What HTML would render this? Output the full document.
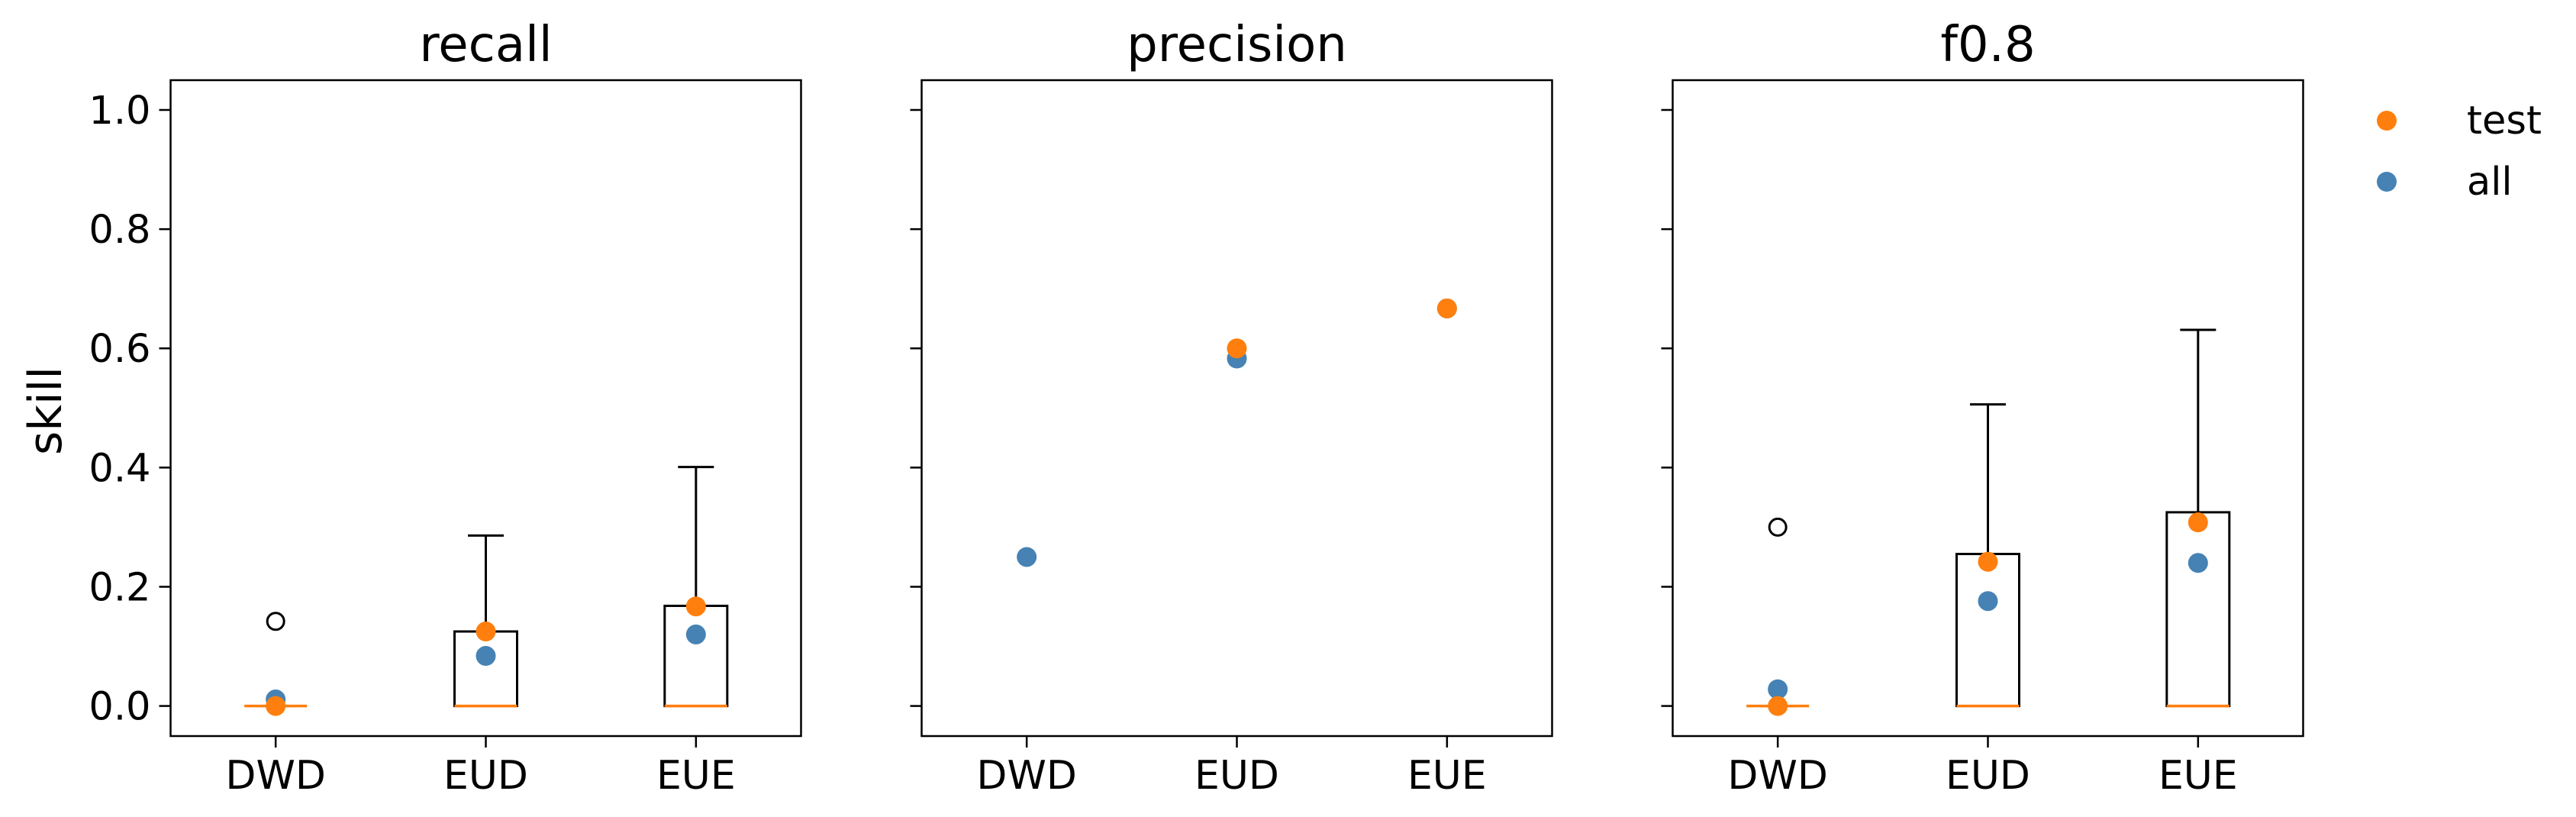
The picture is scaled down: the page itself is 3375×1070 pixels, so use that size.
<!DOCTYPE html>
<html><head><meta charset="utf-8"><style>
html,body{margin:0;padding:0;background:#fff;}
svg{display:block;font-family:"DejaVu Sans","Liberation Sans",sans-serif;}
</style></head><body>
<svg id="chart" width="3375" height="1070" viewBox="0 0 3375 1070" xmlns="http://www.w3.org/2000/svg">
<text x="0" y="0" transform="translate(80,538) rotate(-90)" font-size="60" text-anchor="middle">skill</text>
<g>
  <circle cx="3127" cy="158" r="13" fill="#ff7f0e"/>
  <text x="3232" y="175" font-size="51">test</text>
  <circle cx="3127" cy="238" r="13" fill="#4682b4"/>
  <text x="3232" y="255" font-size="51">all</text>
</g>
</svg>
<script>
const categories = ["DWD","EUD","EUE"];
const panelTitles = ["recall","precision","f0.8"];
const yTicks = [0,0.2,0.4,0.6,0.8,1.0];
const yTickLabels = ["0.0","0.2","0.4","0.6","0.8","1.0"];
// box stats per panel: [q1, median, q3, whiskerHigh] per category (null = no box)
const recallBoxes = [[0,0,0,0],[0,0,0.125,0.286],[0,0,0.168,0.401]];
const precisionBoxes = [null,null,null];
const f08Boxes = [[0,0,0,0],[0,0,0.255,0.506],[0,0,0.325,0.631]];
const recallOutliers = [[0.142],[],[]];
const precisionOutliers = [[],[],[]];
const f08Outliers = [[0.30],[],[]];
const recallAll = [0.011,0.084,0.12];
const recallTest = [0,0.125,0.167];
const precisionAll = [0.25,0.583,0.667];
const precisionTest = [null,0.60,0.667];
const f08All = [0.028,0.176,0.24];
const f08Test = [0,0.242,0.308];

const boxesArr=[recallBoxes,precisionBoxes,f08Boxes];
const outArr=[recallOutliers,precisionOutliers,f08Outliers];
const allArr=[recallAll,precisionAll,f08All];
const testArr=[recallTest,precisionTest,f08Test];

const NS="http://www.w3.org/2000/svg";
const svg=document.getElementById('chart');
const panelLeft=[223.5,1207.5,2191.5];
const W=826, TOP=105, BOT=964;
function yS(v){return 924.6 - v*780.6;}
function mk(tag,attrs,parent){const e=document.createElementNS(NS,tag);for(const k in attrs)e.setAttribute(k,attrs[k]);(parent||svg).appendChild(e);return e;}

for(let p=0;p<3;p++){
  const L=panelLeft[p];
  const xS=i=>L+(i+0.5)*W/3;
  const g=mk('g',{});
  
  
  const t=mk('text',{x:L+W/2,y:80,'font-size':64,'text-anchor':'middle'},g);
  t.textContent=panelTitles[p];
  
  
  yTicks.forEach((v,i)=>{
    const tk=mk('line',{x1:L-15,x2:L,y1:yS(v),y2:yS(v),stroke:'#000','stroke-width':2.5},g);
    
    
    if(p===0){
      const lb=mk('text',{x:L-26,y:yS(v)+18,'font-size':51,'text-anchor':'end'},g);
      lb.textContent=yTickLabels[i];
      
      
    }
  });
  categories.forEach((c,i)=>{
    const x=xS(i);
    const tk=mk('line',{x1:x,x2:x,y1:BOT,y2:BOT+15,stroke:'#000','stroke-width':2.5},g);
    
    
    const lb=mk('text',{x:x,y:1033,'font-size':52,'text-anchor':'middle'},g);
    lb.textContent=c;
    
    
    const b=boxesArr[p][i];
    const bw=82, cw=47;
    if(b){
      const bx=mk('rect',{x:x-bw/2,y:yS(b[2]),width:bw,height:Math.max(0,yS(b[0])-yS(b[2])),fill:'none',stroke:'#000','stroke-width':3},g);
      
      
      const wh=mk('line',{x1:x,x2:x,y1:yS(b[2]),y2:yS(b[3]),stroke:'#000','stroke-width':3},g);
      
      
      const cap=mk('line',{x1:x-cw/2,x2:x+cw/2,y1:yS(b[3]),y2:yS(b[3]),stroke:'#000','stroke-width':3},g);
      
      
      const md=mk('line',{x1:x-bw/2,x2:x+bw/2,y1:yS(b[1]),y2:yS(b[1]),stroke:'#ff7f0e','stroke-width':3.5},g);
      
      
    }
    outArr[p][i].forEach(v=>{
      const o=mk('circle',{cx:x,cy:yS(v),r:11,fill:'none',stroke:'#000','stroke-width':3},g);
      
      
    });
    const a=allArr[p][i];
    if(a!==null){
      const d=mk('circle',{cx:x,cy:yS(a),r:13,fill:'#4682b4'},g);
      
      
    }
    const te=testArr[p][i];
    if(te!==null){
      const d=mk('circle',{cx:x,cy:yS(te),r:13,fill:'#ff7f0e'},g);
      
      
    }
  });
  const fr=mk('rect',{x:L,y:TOP,width:W,height:BOT-TOP,fill:'none',stroke:'#000','stroke-width':2.5},g);
  
  
}
</script>
</body></html>
